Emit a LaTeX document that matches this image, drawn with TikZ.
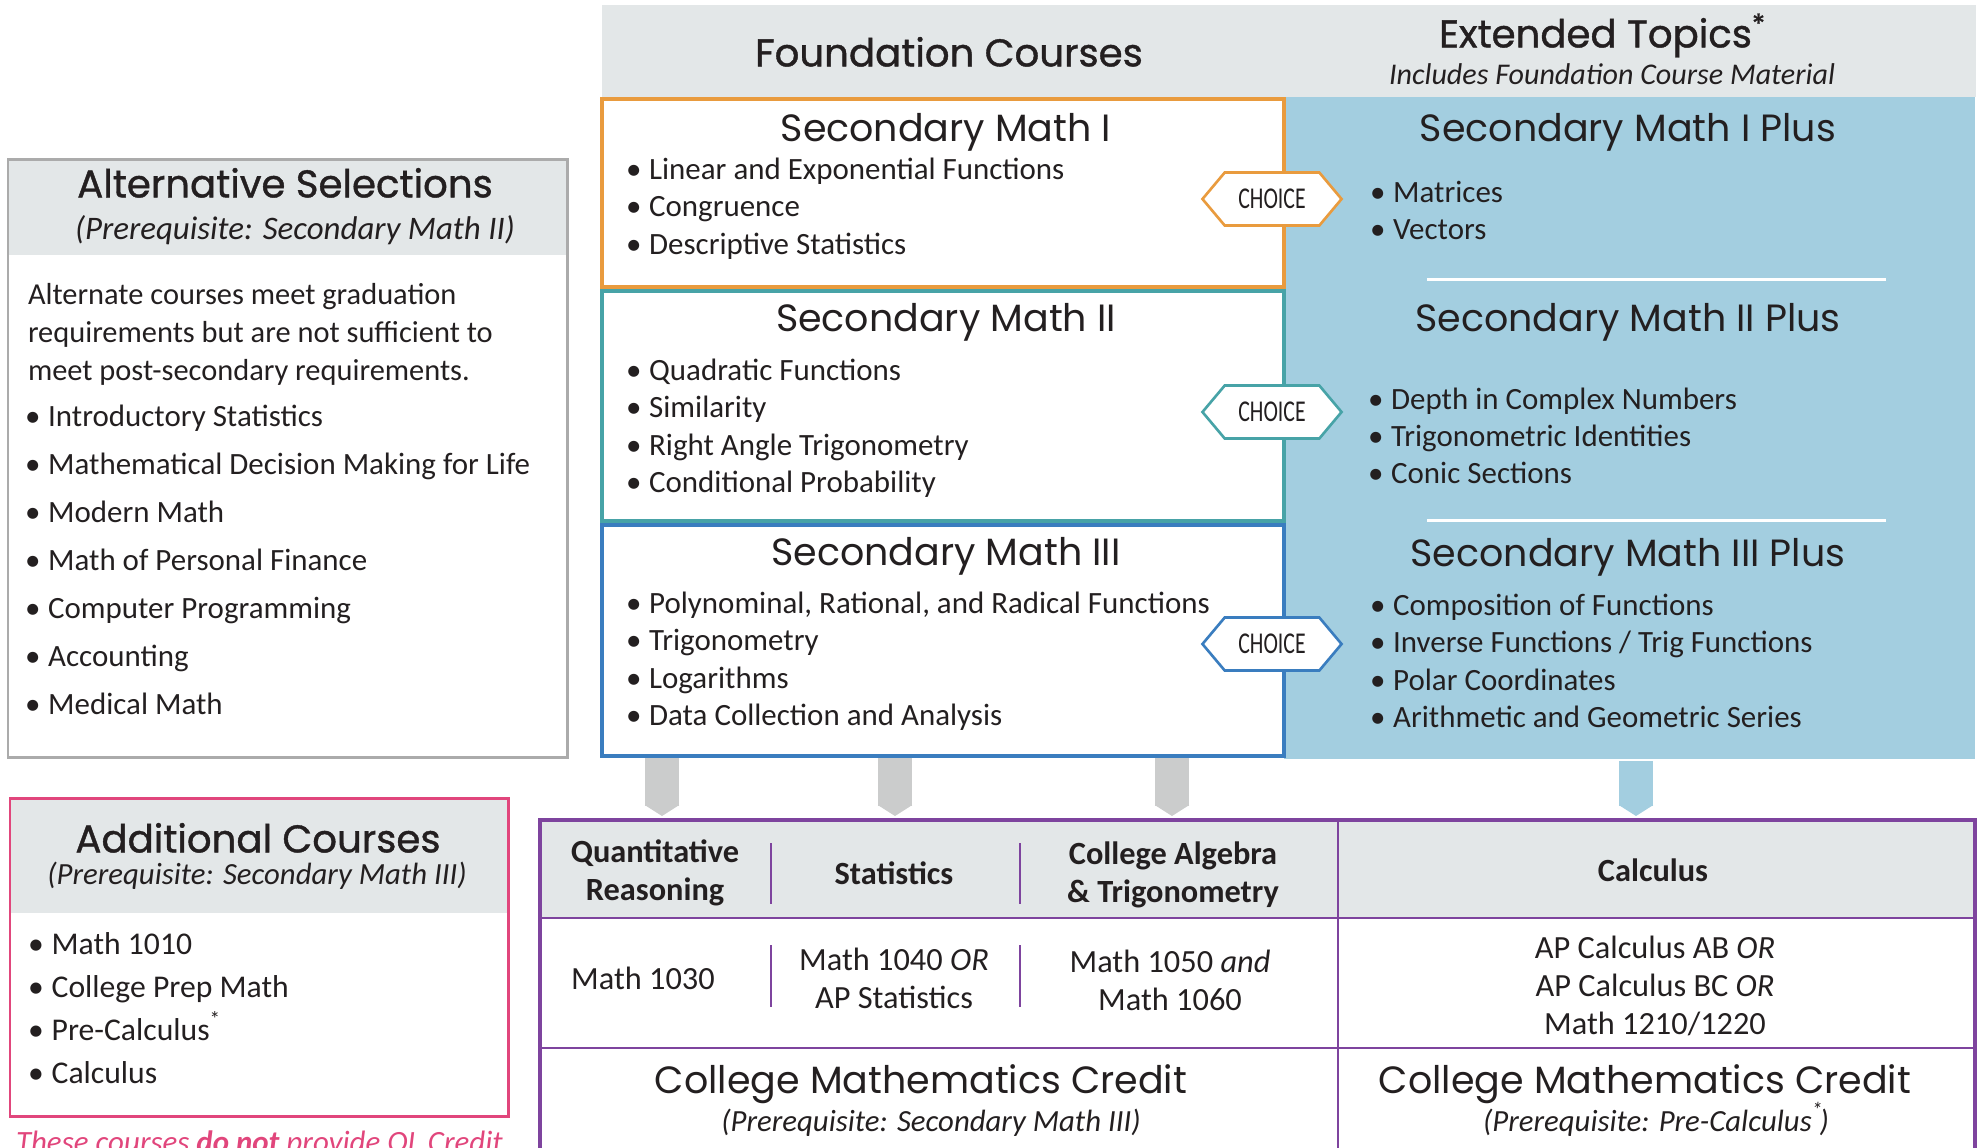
\documentclass[tikz,border=0pt]{standalone}
\usepackage{fontspec}
\setmainfont{Carlito}
\newfontfamily\titlefont{Poppins}
\newfontfamily\headfont[FakeBold=1]{Poppins}
\newfontfamily\choicefont[FakeStretch=0.72]{Carlito}
\usetikzlibrary{arrows.meta, shapes.symbols}
\newcommand\fsz[1]{\fontsize{#1}{10.8}\selectfont}
\newcommand\bul{\textbullet\hspace{0.25em}}
\definecolor{ink}{HTML}{231F20}
\definecolor{bandgray}{HTML}{E3E7E8}
\definecolor{panelblue}{HTML}{A3CEE0}
\definecolor{orangeln}{HTML}{E99B3E}
\definecolor{tealln}{HTML}{47A3A7}
\definecolor{blueln}{HTML}{3A7DBF}
\definecolor{tabpurple}{HTML}{7E449E}
\definecolor{pinkln}{HTML}{E1467C}
\definecolor{arrowgray}{HTML}{CBCCCC}
\definecolor{altgray}{HTML}{ABABAB}
\begin{document}
\begin{tikzpicture}[x=0.01cm, y=-0.01cm, text=ink,
    every node/.style={inner sep=0pt, outer sep=0pt},
    titletext/.style={font=\titlefont\fsz{10.8}, anchor=mid},
    headtext/.style={font=\headfont\fsz{11}, anchor=mid},
    notetext/.style={font=\itshape\fsz{8.75}, anchor=mid},
    itemtext/.style={font=\fsz{8.8}, anchor=mid west},
    celltext/.style={font=\fsz{9.2}, align=center},
    cellhead/.style={font=\bfseries\fsz{9.2}, align=center},
    fillbox/.style={anchor=north west, fill=#1},
    framebox/.style={anchor=north west, draw=#1, line width=0.85pt},
    coursebox/.style={anchor=north west, draw=#1, fill=white, line width=1.1pt, minimum width=68.2mm},
    choicetag/.style={shape=signal, signal to=west and east, signal pointer angle=100, draw=#1, fill=white,
      line width=0.75pt, minimum width=13.9mm, minimum height=5.3mm, font=\choicefont\fsz{8.6}},
    downarrow/.style={draw=#1, line width=3.4mm, shorten <=0.2mm, -{Triangle[width=3.4mm 0 0, length=1.1mm 0 0]}},
    tabrule/.style={draw=tabpurple, line width=0.6pt}]
  \useasboundingbox (0,0) rectangle (1983,1147);
  \clip (0,0) rectangle (1983,1147);
  % top band
  \node[fillbox=bandgray, minimum width=137.3mm, minimum height=9.2mm] (band) at (602,5) {};
  \node[headtext] (fc) at (949,58) {Foundation Courses};
  \node[headtext] (et) at (1603,39) {Extended Topics\textsuperscript{*}};
  \node[notetext, font=\itshape\fsz{8.55}] (ets) at (1612,76) {Includes Foundation Course Material};
  % extended topics panel
  \node[fillbox=panelblue, minimum width=69.1mm, minimum height=66.2mm] (panel) at (1284,97) {};
  \draw[white, line width=0.85pt] (1427,279) -- (1886,279) (1427,520) -- (1886,520);
  % foundation courses
  \node[coursebox=orangeln, minimum height=18.8mm] (sm1) at (602,99) {};
  \node[coursebox=tealln, minimum height=23mm] (sm2) at (602,291) {};
  \node[coursebox=blueln, minimum height=23.1mm] (sm3) at (602,525) {};
  \node[titletext] (sm1t) at (946,133) {Secondary Math I};
  \node[titletext] (sm2t) at (946,323) {Secondary Math II};
  \node[titletext] (sm3t) at (946,557) {Secondary Math III};
  \foreach \t [count=\i from 0] in {Linear and Exponential Functions, Congruence, Descriptive Statistics}
    \node[itemtext] (sma\i) at (626,171+37.5*\i) {\bul\t};
  \foreach \t [count=\i from 0] in {Quadratic Functions, Similarity, Right Angle Trigonometry, Conditional Probability}
    \node[itemtext] (smb\i) at (626,372+37.3*\i) {\bul\t};
  \foreach \t [count=\i from 0] in {{Polynominal, Rational, and Radical Functions}, Trigonometry, Logarithms, Data Collection and Analysis}
    \node[itemtext] (smc\i) at (626,605+37.3*\i) {\bul\t};
  \node[titletext] (pl1t) at (1628,133) {Secondary Math I Plus};
  \node[titletext] (pl2t) at (1628,323) {Secondary Math II Plus};
  \node[titletext] (pl3t) at (1628,558) {Secondary Math III Plus};
  \foreach \t [count=\i from 0] in {Matrices, Vectors}
    \node[itemtext] (pla\i) at (1370,194+37.5*\i) {\bul\t};
  \foreach \t [count=\i from 0] in {Depth in Complex Numbers, Trigonometric Identities, Conic Sections}
    \node[itemtext] (plb\i) at (1368,401+37*\i) {\bul\t};
  \foreach \t [count=\i from 0] in {Composition of Functions, Inverse Functions / Trig Functions, Polar Coordinates, Arithmetic and Geometric Series}
    \node[itemtext] (plc\i) at (1370,607+37.3*\i) {\bul\t};
  \node[choicetag=orangeln] (ch1) at (1272,199) {CHOICE};
  \node[choicetag=tealln] (ch2) at (1272,412) {CHOICE};
  \node[choicetag=blueln] (ch3) at (1272,644) {CHOICE};
  % alternative selections
  \node[fillbox=bandgray, minimum width=55.9mm, minimum height=9.6mm] (althead) at (8,159) {};
  \node[framebox=altgray, minimum width=55.9mm, minimum height=59.8mm] (alt) at (8,159) {};
  \node[headtext] (altt) at (285,189) {Alternative Selections};
  \node[notetext, font=\itshape\fsz{9.35}] (alts) at (295,231) {(Prerequisite: Secondary Math II)};
  \foreach \t [count=\i from 0] in {Alternate courses meet graduation, requirements but are not sufficient to, meet post-secondary requirements.}
    \node[itemtext, font=\fsz{8.65}] (altp\i) at (28,296+38*\i) {\t};
  \foreach \t [count=\i from 0] in {Introductory Statistics, Mathematical Decision Making for Life, Modern Math, Math of Personal Finance, Computer Programming, Accounting, Medical Math}
    \node[itemtext] (alti\i) at (25,418+48*\i) {\bul\t};
  % additional courses
  \node[fillbox=bandgray, minimum width=49.8mm, minimum height=11.5mm] (addhead) at (10,798) {};
  \node[framebox=pinkln, minimum width=49.8mm, minimum height=31.8mm] (add) at (10,798) {};
  \node[headtext] (addt) at (258,844) {Additional Courses};
  \node[notetext] (adds) at (257,876) {(Prerequisite: Secondary Math III)};
  \foreach \t [count=\i from 0] in {Math 1010, College Prep Math, Pre-Calculus\textsuperscript{*}, Calculus}
    \node[itemtext, font=\fsz{9}] (addi\i) at (28,946+43*\i) {\bul\t};
  \node[anchor=base west, font=\itshape\fsz{8.8}, text=pinkln] (ql) at (16,1152) {These courses \textbf{do not} provide QL Credit};
  % college credit table
  \node[fillbox=bandgray, minimum width=143.5mm, minimum height=9.8mm] (tabhead) at (540,820) {};
  \draw[tabrule] (540,918) -- (1975,918) (540,1048) -- (1975,1048) (1338,820) -- (1338,1160);
  \draw[tabrule] (771,843) -- (771,904) (1020,843) -- (1020,904) (771,945) -- (771,1007) (1020,945) -- (1020,1007);
  \draw[tabpurple, line width=1.1pt] (540,1160) -- (540,820) -- (1975,820) -- (1975,1160);
  \node[cellhead] (qr) at (655,873) {Quantitative\\Reasoning};
  \node[cellhead] (stat) at (894,873) {Statistics};
  \node[cellhead] (alg) at (1173,875) {College Algebra\\\& Trigonometry};
  \node[cellhead] (calc) at (1653,870) {Calculus};
  \node[celltext] (m1030) at (643,978) {Math 1030};
  \node[celltext] (m1040) at (894,978) {Math 1040 \textit{OR}\\AP Statistics};
  \node[celltext] (m1050) at (1170,980) {Math 1050 \textit{and}\\Math 1060};
  \node[celltext] (mcalc) at (1655,986) {AP Calculus AB \textit{OR}\\AP Calculus BC \textit{OR}\\Math 1210/1220};
  \node[titletext] (cr1) at (921,1085) {College Mathematics Credit};
  \node[notetext] (cr1s) at (931,1123) {(Prerequisite: Secondary Math III)};
  \node[titletext] (cr2) at (1645,1085) {College Mathematics Credit};
  \node[notetext] (cr2s) at (1656,1123) {(Prerequisite: Pre-Calculus\textsuperscript{*}\kern-0.15em)};
  % arrows down to the table
  \coordinate (t1) at (662,816);
  \coordinate (t2) at (895,816);
  \coordinate (t3) at (1172,816);
  \coordinate (t4) at (1636,816);
  \foreach \c in {t1,t2,t3}
    \draw[downarrow=arrowgray] (sm3.south -| \c) -- (\c);
  \draw[downarrow=panelblue] (panel.south -| t4) -- (t4);
\end{tikzpicture}
\end{document}
